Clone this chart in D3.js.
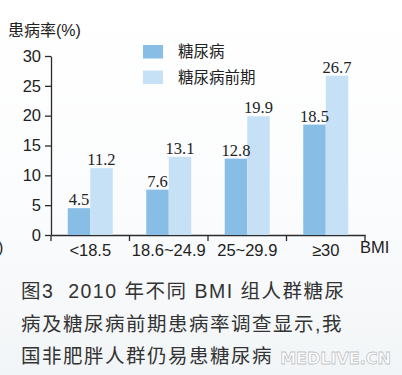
<!DOCTYPE html>
<html>
<head>
<meta charset="utf-8">
<script src="https://cdn.jsdelivr.net/npm/d3@7"></script>
<style>
  html, body { margin: 0; padding: 0; background: #fff; }
  svg { display: block; }
</style>
</head>
<body>
<div id="chart"></div>
<script>
// 資料
const categories = ['<18.5', '18.6~24.9', '25~29.9', '≥30'];
const seriesNames = ['糖尿病', '糖尿病前期'];
const diabetes = [4.5, 7.6, 12.8, 18.5];
const prediabetes = [11.2, 13.1, 19.9, 26.7];
const yTicks = [0, 5, 10, 15, 20, 25, 30];
const captionLines = [
  '图3  2010 年不同 BMI 组人群糖尿',
  '病及糖尿病前期患病率调查显示,我',
  '国非肥胖人群仍易患糖尿病'
];

const colors = ['#88bde6', '#c6e1f6'];
const W = 402, H = 375;

const svg = d3.select('#chart').append('svg')
  .attr('width', W).attr('height', H);

// 背景 (淡灰漸層)
const defs = svg.append('defs');
const grad = defs.append('linearGradient').attr('id', 'bg')
  .attr('x1', 0).attr('y1', 0).attr('x2', 0).attr('y2', 1);
grad.append('stop').attr('offset', '0%').attr('stop-color', '#ffffff');
grad.append('stop').attr('offset', '55%').attr('stop-color', '#fbfcfd');
grad.append('stop').attr('offset', '100%').attr('stop-color', '#f2f5f7');
svg.append('rect').attr('width', W).attr('height', H).attr('fill', 'url(#bg)');

const plotL = 51, plotR = 365, plotT = 56, plotB = 235;

const x0 = d3.scaleBand().domain(categories).range([plotL, plotR]).padding(0);
const barW = 22.5;
const x1 = d3.scaleBand().domain(seriesNames)
  .range([x0.bandwidth() / 2 - barW, x0.bandwidth() / 2 + barW]).padding(0);
const y = d3.scaleLinear().domain([0, 30]).range([plotB, plotT]);

const sansFont = '"Liberation Sans", Arial, sans-serif';
const serifFont = '"Liberation Serif", "Times New Roman", serif';
const cjkFont = '"Noto Sans CJK SC", "Noto Sans", sans-serif';
const mixFont = '"Liberation Sans", "Noto Sans CJK SC", sans-serif';
const axisColor = '#2b2b2b';

// Y 軸
const yAxis = svg.append('g')
  .attr('transform', `translate(${plotL},0)`)
  .call(d3.axisLeft(y).tickValues(yTicks).tickSize(6).tickPadding(4).tickSizeOuter(0));
yAxis.select('.domain').attr('stroke', axisColor).attr('stroke-width', 1.3);
yAxis.selectAll('.tick line').attr('stroke', axisColor).attr('stroke-width', 1.3);
yAxis.selectAll('.tick text')
  .attr('font-family', sansFont).attr('font-size', 16.5).attr('fill', '#222');

// X 軸
const xAxis = svg.append('g')
  .attr('transform', `translate(0,${plotB})`)
  .call(d3.axisBottom(x0).tickSize(0).tickPadding(9).tickSizeOuter(0));
xAxis.select('.domain').attr('stroke', axisColor).attr('stroke-width', 1.3);
xAxis.selectAll('.tick text')
  .attr('font-family', sansFont).attr('font-size', 16.5).attr('fill', '#222');

// X 軸分隔刻度
const bounds = categories.map(c => x0(c)).concat([x0(categories[categories.length - 1]) + x0.bandwidth()]);
svg.append('g').selectAll('line').data(bounds).join('line')
  .attr('x1', d => d).attr('x2', d => d)
  .attr('y1', plotB).attr('y2', plotB + 6)
  .attr('stroke', axisColor).attr('stroke-width', 1.3);

// 長條
const series = [diabetes, prediabetes];
const groups = svg.append('g').selectAll('g').data(categories).join('g')
  .attr('transform', d => `translate(${x0(d)},0)`);

groups.selectAll('rect')
  .data((c, i) => seriesNames.map((s, k) => ({ s, k, v: series[k][i] })))
  .join('rect')
  .attr('x', d => x1(d.s))
  .attr('width', x1.bandwidth())
  .attr('y', d => y(d.v))
  .attr('height', d => plotB - y(d.v))
  .attr('fill', d => colors[d.k]);

groups.selectAll('text.val')
  .data((c, i) => seriesNames.map((s, k) => ({ s, k, v: series[k][i] })))
  .join('text')
  .attr('class', 'val')
  .attr('x', d => x1(d.s) + x1.bandwidth() / 2)
  .attr('y', d => y(d.v) - 3)
  .attr('text-anchor', 'middle')
  .attr('font-family', serifFont)
  .attr('font-size', 16.5)
  .attr('fill', '#222')
  .text(d => d.v.toFixed(1));

// 軸標題
svg.append('text').attr('x', 8).attr('y', 36)
  .attr('font-family', mixFont).attr('font-size', 16).attr('fill', '#222')
  .text('患病率(%)');
svg.append('text').attr('x', 360).attr('y', 253)
  .attr('font-family', sansFont).attr('font-size', 16.5).attr('fill', '#222')
  .text('BMI');
svg.append('text').attr('x', -2).attr('y', 253)
  .attr('font-family', sansFont).attr('font-size', 16).attr('fill', '#222')
  .text(')');

// 圖例
const legend = svg.append('g').selectAll('g').data(seriesNames).join('g')
  .attr('transform', (d, i) => `translate(143,${45 + i * 25.5})`);
legend.append('rect').attr('width', 20).attr('height', 13.5)
  .attr('fill', (d, i) => colors[i]);
legend.append('text').attr('x', 35).attr('y', 12)
  .attr('font-family', cjkFont).attr('font-size', 15.5).attr('fill', '#222')
  .text(d => d);

// 圖說
svg.append('g').selectAll('text').data(captionLines).join('text')
  .attr('x', 21).attr('y', (d, i) => 298 + i * 32.5)
  .attr('font-family', mixFont).attr('font-size', 19.5)
  .attr('letter-spacing', 1.5)
  .attr('fill', '#333')
  .style('white-space', 'pre')
  .text(d => d);

// 浮水印
svg.append('text').attr('x', 391).attr('y', 364)
  .attr('text-anchor', 'end')
  .attr('font-family', '"DejaVu Sans", sans-serif').attr('font-size', 16)
  .attr('font-weight', 'bold')
  .attr('fill', '#ffffff').attr('stroke', '#c2c5c8').attr('stroke-width', 0.8)
  .text('MEDLIVE.CN');
</script>
</body>
</html>
